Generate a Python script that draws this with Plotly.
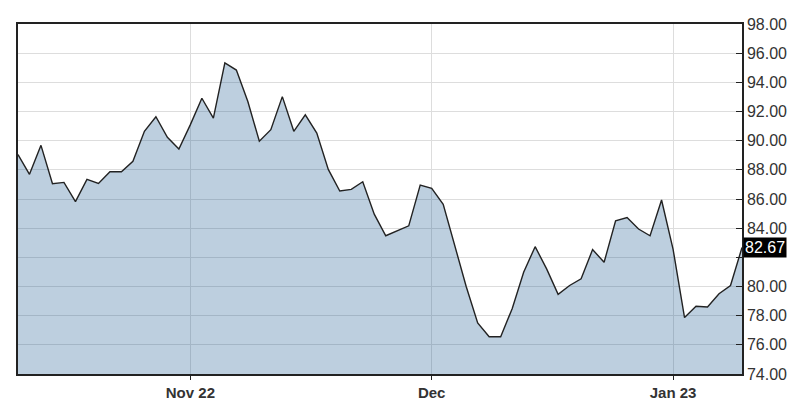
import plotly.graph_objects as go

dates = [
    "2022-10-11", "2022-10-12", "2022-10-13", "2022-10-14", "2022-10-17", "2022-10-18",
    "2022-10-19", "2022-10-20", "2022-10-21", "2022-10-24", "2022-10-25", "2022-10-26",
    "2022-10-27", "2022-10-28", "2022-10-31",
    "2022-11-01", "2022-11-02", "2022-11-03", "2022-11-04", "2022-11-07", "2022-11-08",
    "2022-11-09", "2022-11-10", "2022-11-11", "2022-11-14", "2022-11-15", "2022-11-16",
    "2022-11-17", "2022-11-18", "2022-11-21", "2022-11-22", "2022-11-23", "2022-11-25",
    "2022-11-28", "2022-11-29", "2022-11-30",
    "2022-12-01", "2022-12-02", "2022-12-05", "2022-12-06", "2022-12-07", "2022-12-08",
    "2022-12-09", "2022-12-12", "2022-12-13", "2022-12-14", "2022-12-15", "2022-12-16",
    "2022-12-19", "2022-12-20", "2022-12-21", "2022-12-22", "2022-12-23", "2022-12-27",
    "2022-12-28", "2022-12-29", "2022-12-30",
    "2023-01-03", "2023-01-04", "2023-01-05", "2023-01-06", "2023-01-09", "2023-01-10",
    "2023-01-11",
]

prices = [
    89.05, 87.69, 89.68, 87.05, 87.14, 85.82, 87.34, 87.07, 87.87, 87.87,
    88.59, 90.64, 91.64, 90.23, 89.43,
    91.10, 92.91, 91.55, 95.34, 94.84, 92.68, 89.96, 90.75, 93.02, 90.64,
    91.77, 90.52, 88.03, 86.55, 86.66, 87.18, 84.96, 83.48, 83.82, 84.16,
    86.96,
    86.73, 85.64, 82.80, 80.00, 77.50, 76.55, 76.55, 78.48, 80.98, 82.73,
    81.21, 79.46, 80.07, 80.53, 82.53, 81.66, 84.50, 84.73, 83.94, 83.48,
    85.93,
    82.57, 77.87, 78.64, 78.59, 79.50, 80.07, 82.67,
]

x_tick_dates = ["2022-11-01", "2022-12-01", "2023-01-03"]
x_tick_labels = ["Nov 22", "Dec", "Jan 23"]

y_ticks = [74, 76, 78, 80, 82, 84, 86, 88, 90, 92, 94, 96, 98]
y_tick_labels = ["" if v == 82 else f"{v:.2f}" for v in y_ticks]

last_price = prices[-1]

fig = go.Figure()
fig.add_trace(go.Scatter(
    x=dates, y=prices, mode="lines",
    line=dict(color="#222222", width=1.4),
    fill="tozeroy", fillcolor="rgba(0,70,130,0.26)",
    hoverinfo="skip",
))

fig.update_layout(
    width=806, height=413,
    margin=dict(l=8, r=72, t=14, b=47),
    paper_bgcolor="white", plot_bgcolor="white",
    showlegend=False,
    font=dict(family="Liberation Sans, Arial, sans-serif", color="#333333", size=16),
)

fig.update_xaxes(
    type="category",
    range=[0, len(dates) - 1],
    tickmode="array",
    tickvals=x_tick_dates,
    ticktext=[f"<b>{t}</b>" for t in x_tick_labels],
    showgrid=True, gridcolor="#dddddd", gridwidth=1,
    showline=True, linecolor="#222222", linewidth=1.5, mirror=True,
    ticks="outside", ticklen=4, tickcolor="#222222",
    tickfont=dict(size=15, color="#333333"),
    zeroline=False,
)

fig.update_yaxes(
    side="right",
    range=[74, 98],
    tickmode="array",
    tickvals=y_ticks,
    ticktext=y_tick_labels,
    showgrid=True, gridcolor="#dddddd", gridwidth=1,
    showline=True, linecolor="#222222", linewidth=1.5, mirror=True,
    ticks="inside", ticklen=6, tickcolor="#222222",
    tickfont=dict(size=16, color="#333333"),
    zeroline=False,
)

fig.add_annotation(
    xref="paper", yref="y", x=1, y=last_price,
    xanchor="left", yanchor="middle",
    text=f"{last_price:.2f}", showarrow=False,
    font=dict(size=16, color="white"),
    bgcolor="black", borderpad=1, xshift=1,
)

fig.write_html("out.html")
